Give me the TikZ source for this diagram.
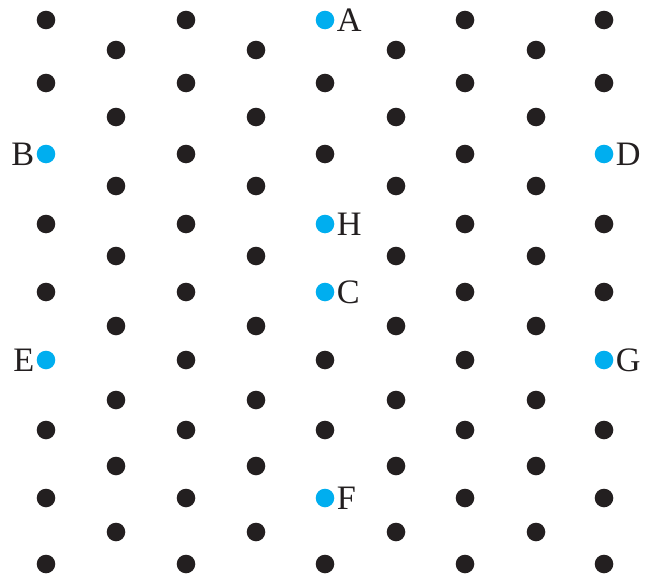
\documentclass[tikz,border=0pt]{standalone}
\usepackage{fontspec}
\setmainfont{Liberation Serif}
\usetikzlibrary{positioning}
\definecolor{dotblack}{HTML}{231F20}
\definecolor{dotcyan}{HTML}{00AEEF}

\begin{document}
\begin{tikzpicture}[x=0.02cm, y=-0.02cm,
    dot/.style={circle, fill=#1, inner sep=0pt, minimum size=0.372cm},
    dot/.default=dotblack,
    lbl/.style={inner sep=0pt, font=\fontsize{19.5}{21}\selectfont, text=dotblack}
]
\useasboundingbox (0,0) rectangle (646,575);

% lattice, columns with nine dots
\foreach \i/\x in {0/46,1/186,2/325,3/465,4/604}{
  \foreach \j/\y in {0/20,1/83,2/154,3/224,4/292,5/360,6/430,7/498,8/564}{
    \pgfmathtruncatemacro\hl{(\i==2 && (\j==0 || \j==3 || \j==4 || \j==7)) || ((\i==0 || \i==4) && (\j==2 || \j==5))}
    \ifnum\hl=0
      \node[dot] (p-\i-\j) at (\x,\y) {};
    \fi
  }
}
% lattice, columns with eight dots
\foreach \i/\x in {0/116,1/256,2/396,3/536}{
  \foreach \j/\y in {0/50,1/117,2/186,3/256,4/326,5/400,6/466,7/532}{
    \node[dot] (q-\i-\j) at (\x,\y) {};
  }
}

% marked points
\node[dot=dotcyan] (A) at (325,20) {};
\node[dot=dotcyan] (B) at (46,154) {};
\node[dot=dotcyan] (D) at (604,154) {};
\node[dot=dotcyan] (H) at (325,224) {};
\node[dot=dotcyan] (C) at (325,292) {};
\node[dot=dotcyan] (E) at (46,360) {};
\node[dot=dotcyan] (G) at (604,360) {};
\node[dot=dotcyan] (F) at (325,498) {};

\node[lbl, right=1pt of A] (lA) {A};
\node[lbl, left=1pt of B] (lB) {B};
\node[lbl, right=1pt of D] (lD) {D};
\node[lbl, right=1pt of H] (lH) {H};
\node[lbl, right=1pt of C] (lC) {C};
\node[lbl, left=1pt of E] (lE) {E};
\node[lbl, right=1pt of G] (lG) {G};
\node[lbl, right=1pt of F] (lF) {F};
\end{tikzpicture}
\end{document}
